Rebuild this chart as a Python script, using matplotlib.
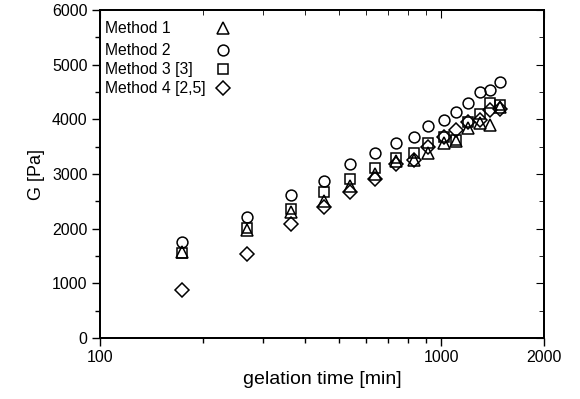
import matplotlib
matplotlib.use("Agg")
import matplotlib.pyplot as plt
from matplotlib.ticker import FixedLocator, NullFormatter, MultipleLocator

plt.rcParams['font.family'] = ['Liberation Sans', 'DejaVu Sans']

time_min = [174, 269, 362, 454, 540, 640, 737, 834, 912, 1019, 1104, 1200, 1297, 1389, 1487]
method1 = [1570, 1980, 2300, 2510, 2780, 3000, 3230, 3256, 3390, 3561, 3600, 3835, 3940, 3896, 4230]
method2 = [1760, 2210, 2616, 2870, 3180, 3390, 3561, 3683, 3870, 3988, 4140, 4293, 4494, 4537, 4689]
method3 = [1560, 2006, 2360, 2670, 2903, 3104, 3298, 3378, 3561, 3671, 3622, 3957, 4092, 4293, 4262]
method4 = [878, 1531, 2080, 2400, 2676, 2909, 3177, 3250, 3490, 3677, 3805, 3950, 3988, 4170, 4190]
labels = ["Method 1", "Method 2", "Method 3 [3]", "Method 4 [2,5]"]
x_tick_labels = ["100", "1000", "2000"]

fig = plt.figure(figsize=(5.8, 3.99), dpi=100)
ax = fig.add_axes([100/580, 61/399, 444/580, 328/399])

styles = [("^", 8.0), ("o", 7.8), ("s", 6.6), ("D", 7.0)]
series = [method1, method2, method3, method4]
for ys, lab, (m, ms) in zip(series, labels, styles):
    ax.plot(time_min, ys, linestyle="none", marker=m, markersize=ms,
            markerfacecolor="none", markeredgecolor="black", markeredgewidth=1.1,
            label=lab)

ax.set_xscale("log")
ax.set_xlim(100, 2000)
ax.set_ylim(0, 6000)
ax.xaxis.set_major_locator(FixedLocator([100, 1000, 2000]))
ax.set_xticklabels(x_tick_labels)
ax.xaxis.set_minor_locator(FixedLocator([200, 300, 400, 500, 600, 700, 800, 900]))
ax.xaxis.set_minor_formatter(NullFormatter())
ax.yaxis.set_major_locator(MultipleLocator(1000))
ax.yaxis.set_minor_locator(MultipleLocator(500))

ax.tick_params(axis="both", which="both", direction="out", labelsize=11.5,
               top=False, right=False)
ax.tick_params(which="major", length=5.5, width=1)
ax.tick_params(which="minor", length=3.5, width=1)
ax2 = ax.twinx()
ax2.set_ylim(0, 6000)
ax2.yaxis.set_major_locator(MultipleLocator(1000))
ax2.yaxis.set_minor_locator(MultipleLocator(500))
ax2.tick_params(axis="y", which="both", direction="in", labelright=False)
ax2.tick_params(which="major", length=5.5)
ax2.tick_params(which="minor", length=3.5)
ax3 = ax.twiny()
ax3.set_xscale("log")
ax3.set_xlim(100, 2000)
ax3.xaxis.set_major_locator(FixedLocator([100, 1000, 2000]))
ax3.xaxis.set_minor_locator(FixedLocator([200, 300, 400, 500, 600, 700, 800, 900]))
ax3.tick_params(axis="x", which="both", direction="in", labeltop=False)
ax3.tick_params(which="major", length=5.5)
ax3.tick_params(which="minor", length=3.5)

for a in (ax, ax2, ax3):
    for s in a.spines.values():
        s.set_linewidth(1.2)

ax.set_xlabel("gelation time [min]", fontsize=14, labelpad=4)
ax.set_ylabel("G [Pa]", fontsize=13, labelpad=5)

# legend: text left-aligned, markers in a column to the right
leg_y = [0.945, 0.878, 0.820, 0.762]
for lab, (m, ms), yy in zip(labels, styles, leg_y):
    ax.text(0.012, yy, lab, transform=ax.transAxes, fontsize=11.3,
            ha="left", va="center")
    ax.plot([0.278], [yy], transform=ax.transAxes, linestyle="none", marker=m,
            markersize=ms, markerfacecolor="none", markeredgecolor="black",
            markeredgewidth=1.1, clip_on=False)

fig.savefig("out.png", dpi=100)
